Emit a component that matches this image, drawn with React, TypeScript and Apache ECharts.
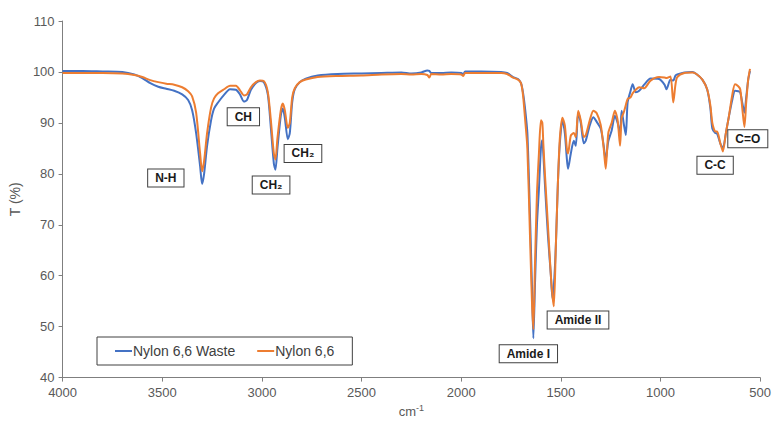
import React, { useEffect, useRef } from "react";
import * as echarts from "echarts";

const wavenumbers = [
  4000, 3900, 3800, 3700, 3640, 3600, 3560, 3520, 3480, 3440, 3400, 3370, 3350, 3330, 3310, 3300, 3290, 3275,
  3255, 3240, 3220, 3190, 3160, 3130, 3110, 3090, 3075, 3055, 3030, 3010, 2990, 2970, 2955, 2940, 2932, 2922,
  2905, 2895, 2885, 2870, 2860, 2848, 2835, 2810, 2780, 2720, 2620, 2500, 2400, 2300, 2250, 2200, 2170, 2160,
  2150, 2100, 2050, 2000, 1990, 1980, 1900, 1800, 1770, 1740, 1715, 1700, 1690, 1680, 1668, 1655, 1645, 1638,
  1630, 1620, 1610, 1600, 1593, 1588, 1580, 1565, 1550, 1542, 1535, 1525, 1515, 1505, 1492, 1480, 1470, 1464,
  1450, 1435, 1425, 1413, 1400, 1385, 1375, 1355, 1337, 1320, 1300, 1285, 1275, 1262, 1245, 1229, 1215, 1203,
  1195, 1185, 1174, 1165, 1150, 1140, 1124, 1107, 1082, 1050, 1007, 980, 970, 950, 936, 925, 916, 880, 840,
  820, 790, 766, 750, 740, 725, 716, 700, 687, 672, 658, 640, 626, 610, 600, 590, 579, 570, 560, 551,
];

const tWaste = [
  100.2, 100.2, 100.1, 100.0, 99.5, 98.8, 97.8, 97.1, 96.7, 96.3, 95.6, 94.5, 92.5, 88.0, 81.5, 78.0, 80.0, 85.5,
  90.5, 92.8, 94.0, 95.5, 96.6, 96.5, 95.6, 94.2, 94.5, 96.5, 97.8, 98.2, 98.0, 95.5, 89.0, 82.0, 80.8, 85.0,
  91.5, 92.8, 91.0, 86.8, 88.0, 94.0, 96.6, 98.0, 98.7, 99.3, 99.6, 99.7, 99.8, 99.9, 99.7, 99.9, 100.3, 100.2,
  99.8, 99.8, 99.9, 99.8, 99.5, 100.1, 100.1, 100.0, 99.8, 99.0, 98.6, 97.8, 96.0, 93.0, 88.0, 72.0, 58.0, 47.7,
  58.0, 70.0, 77.0, 85.0, 86.6, 84.0, 78.0, 68.0, 60.0, 55.5, 58.0, 66.0, 78.0, 86.0, 90.6, 88.0, 83.0, 81.0,
  84.0, 86.5, 85.5, 92.0, 90.0, 86.0, 86.5, 89.5, 91.1, 90.2, 88.9, 85.5, 82.7, 86.4, 88.5, 91.4, 90.0, 88.0,
  92.4, 90.0, 87.6, 94.0, 96.3, 97.6, 96.0, 96.3, 97.5, 98.7, 98.6, 97.5, 96.6, 98.5, 98.3, 99.3, 99.5, 99.9, 100.0,
  99.6, 98.5, 96.6, 93.0, 88.9, 88.0, 87.9, 86.0, 85.0, 88.0, 91.0, 94.5, 96.3, 96.2, 96.0, 94.0, 92.0, 95.0, 98.5, 100.2,
];

const tNylon = [
  99.8, 99.8, 99.8, 99.7, 99.4, 99.0, 98.4, 98.0, 97.7, 97.5, 97.0, 96.2, 95.2, 92.0, 84.0, 80.5, 82.5, 88.0,
  93.0, 94.8, 95.8, 96.6, 97.3, 97.3, 96.4, 95.4, 95.6, 97.0, 98.0, 98.3, 98.2, 96.0, 90.5, 84.0, 82.8, 87.0,
  92.5, 93.8, 92.5, 89.0, 90.0, 95.0, 96.8, 98.0, 98.5, 99.0, 99.2, 99.3, 99.5, 99.6, 99.5, 99.6, 99.4, 98.9,
  99.6, 99.5, 99.6, 99.5, 99.2, 99.8, 99.8, 99.8, 99.6, 98.9, 98.5, 97.8, 95.5, 91.0, 85.0, 68.0, 55.0, 49.5,
  62.0, 76.0, 84.0, 90.5, 90.0, 86.0, 80.0, 70.0, 60.0, 56.0, 54.0, 66.0, 78.0, 87.0, 91.0, 89.5, 85.0, 84.0,
  87.5, 88.0, 87.2, 92.4, 90.5, 87.2, 87.6, 90.5, 92.4, 91.9, 89.6, 85.0, 81.0, 88.0, 90.0, 92.4, 90.5, 85.5,
  91.0, 92.0, 93.5, 94.7, 95.0, 95.8, 96.5, 97.0, 96.8, 98.3, 99.0, 98.9, 98.8, 99.1, 94.0, 97.5, 99.0, 99.8, 99.9,
  99.6, 98.5, 96.6, 93.5, 90.0, 88.3, 88.3, 86.0, 84.4, 88.0, 91.0, 95.5, 97.6, 97.2, 96.6, 93.0, 89.2, 94.0, 98.5, 100.6,
];

const seriesNames = ["Nylon 6,6 Waste", "Nylon 6,6"];
const seriesColors = ["#4472C4", "#ED7D31"];

const annotationTexts = ["N-H", "CH", "CH₂", "CH₂", "Amide I", "Amide II", "C-C", "C=O"];
const annotationWn = [3482, 3093, 2954, 2794, 1663, 1414, 726, 562];
const annotationT = [79.2, 91.2, 77.8, 84.0, 44.7, 51.3, 81.7, 86.9];

const yTicks = { min: 40, max: 110, interval: 10 };
const xTicks = { min: 500, max: 4000, interval: 500 };

export default function App() {
  const ref = useRef<HTMLDivElement>(null);
  useEffect(() => {
    if (!ref.current) return;
    const chart = echarts.init(ref.current, undefined, { renderer: "svg" });
    const font = "'Liberation Sans', Arial, sans-serif";
    const toPairs = (ys: number[]) => wavenumbers.map((w, i) => [w, ys[i]]);
    const markData = annotationTexts.map((t, i) => ({
      coord: [annotationWn[i], annotationT[i]],
      value: t,
    }));
    chart.setOption({
      animation: false,
      textStyle: { fontFamily: font },
      grid: { left: 61, right: 12, top: 21, bottom: 41, containLabel: false },
      legend: {
        left: 97,
        top: 337,
        data: seriesNames,
        icon: "rect",
        itemWidth: 17,
        itemHeight: 2,
        itemGap: 22,
        borderColor: "#404040",
        borderWidth: 1,
        padding: [7, 18, 7, 18],
        textStyle: { fontSize: 14, color: "#404040", fontFamily: font, padding: [0, 0, 0, -4] },
      },
      xAxis: {
        type: "value",
        inverse: true,
        min: xTicks.min,
        max: xTicks.max,
        interval: xTicks.interval,
        splitLine: { show: false },
        axisLine: { lineStyle: { color: "#7f7f7f", width: 1 } },
        axisTick: { show: true, length: 4, lineStyle: { color: "#7f7f7f" } },
        axisLabel: {
          fontSize: 13,
          color: "#595959",
          margin: 8,
          fontFamily: font,
          formatter: (v: number) => String(v),
        },
        name: "{a|cm}{b|-1}",
        nameLocation: "middle",
        nameGap: 24,
        nameTextStyle: {
          rich: {
            a: { fontSize: 13, color: "#595959", fontFamily: font },
            b: { fontSize: 9, color: "#595959", fontFamily: font, padding: [0, 0, 7, 0] },
          },
        },
      },
      yAxis: {
        type: "value",
        min: yTicks.min,
        max: yTicks.max,
        interval: yTicks.interval,
        splitLine: { show: false },
        axisLine: { show: true, lineStyle: { color: "#7f7f7f", width: 1 } },
        axisTick: { show: true, length: 4, lineStyle: { color: "#7f7f7f" } },
        axisLabel: { fontSize: 13, color: "#595959", margin: 8, fontFamily: font },
        name: "T (%)",
        nameLocation: "middle",
        nameGap: 35,
        nameTextStyle: { fontSize: 14, color: "#595959", fontFamily: font },
      },
      series: [
        {
          name: seriesNames[0],
          type: "line",
          data: toPairs(tWaste),
          showSymbol: false,
          symbol: "none",
          smooth: 0.25,
          lineStyle: { color: seriesColors[0], width: 2 },
          itemStyle: { color: seriesColors[0] },
          z: 2,
        },
        {
          name: seriesNames[1],
          type: "line",
          data: toPairs(tNylon),
          showSymbol: false,
          symbol: "none",
          smooth: 0.25,
          lineStyle: { color: seriesColors[1], width: 2 },
          itemStyle: { color: seriesColors[1] },
          z: 3,
          markPoint: {
            symbol: "rect",
            symbolSize: 0,
            silent: true,
            data: markData,
            label: {
              show: true,
              position: "inside",
              formatter: (p: any) => p.value,
              fontSize: 12,
              fontWeight: "bold",
              color: "#1a1a1a",
              fontFamily: font,
              backgroundColor: "#ffffff",
              borderColor: "#404040",
              borderWidth: 1,
              padding: [3, 7, 2, 7],
            },
          },
        },
      ],
    });
    return () => chart.dispose();
  }, []);
  return <div ref={ref} style={{ width: 774, height: 423, position: "absolute", left: 0, top: 0 }} />;
}
